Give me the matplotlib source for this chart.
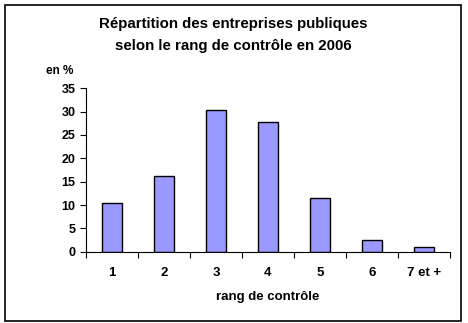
import matplotlib
matplotlib.use("Agg")
import matplotlib.pyplot as plt
from matplotlib.patches import Rectangle

plt.rcParams['font.family'] = ['Liberation Sans', 'DejaVu Sans']
plt.rcParams['font.weight'] = 'bold'

rangs = ["1", "2", "3", "4", "5", "6", "7 et +"]
parts = [10.5, 16.3, 30.3, 27.7, 11.6, 2.6, 0.9]

fig = plt.figure(figsize=(4.68, 3.23), dpi=100)
fig.patches.append(Rectangle((5 / 468, 2 / 323), 456 / 468, 316 / 323,
                             transform=fig.transFigure, fill=False,
                             edgecolor="black", linewidth=1.2))

ax = fig.add_axes([86 / 468, 1 - 251.7 / 323, 364 / 468, 163.4 / 323])
x = list(range(len(rangs)))
ax.bar(x, parts, width=0.39, color="#9999FF", edgecolor="black", linewidth=1)

ax.set_xlim(-0.5, len(rangs) - 0.5)
ax.set_ylim(0, 35)
ax.set_yticks(range(0, 36, 5))
ax.set_xticks([i - 0.5 for i in range(len(rangs) + 1)])
ax.set_xticklabels([])
ax.set_xticks(x, minor=True)
ax.set_xticklabels(rangs, minor=True)
ax.tick_params(axis="x", which="minor", length=0, pad=11, labelsize=9.5)
ax.tick_params(axis="x", which="major", length=4, direction="out")
ax.tick_params(axis="y", length=4, direction="out", labelsize=9)
for s in ["top", "right"]:
    ax.spines[s].set_visible(False)

ax.set_xlabel("rang de contrôle", fontsize=9.5, fontweight="bold", labelpad=9)
fig.text(233 / 468, 1 - 24 / 323, "Répartition des entreprises publiques",
         ha="center", va="center", fontsize=10.8, fontweight="bold")
fig.text(233 / 468, 1 - 46 / 323, "selon le rang de contrôle en 2006",
         ha="center", va="center", fontsize=10.8, fontweight="bold")
fig.text(46 / 468, 1 - 71 / 323, "en %", ha="left", va="center",
         fontsize=8.5, fontweight="bold")

fig.savefig("out.png", dpi=100)
